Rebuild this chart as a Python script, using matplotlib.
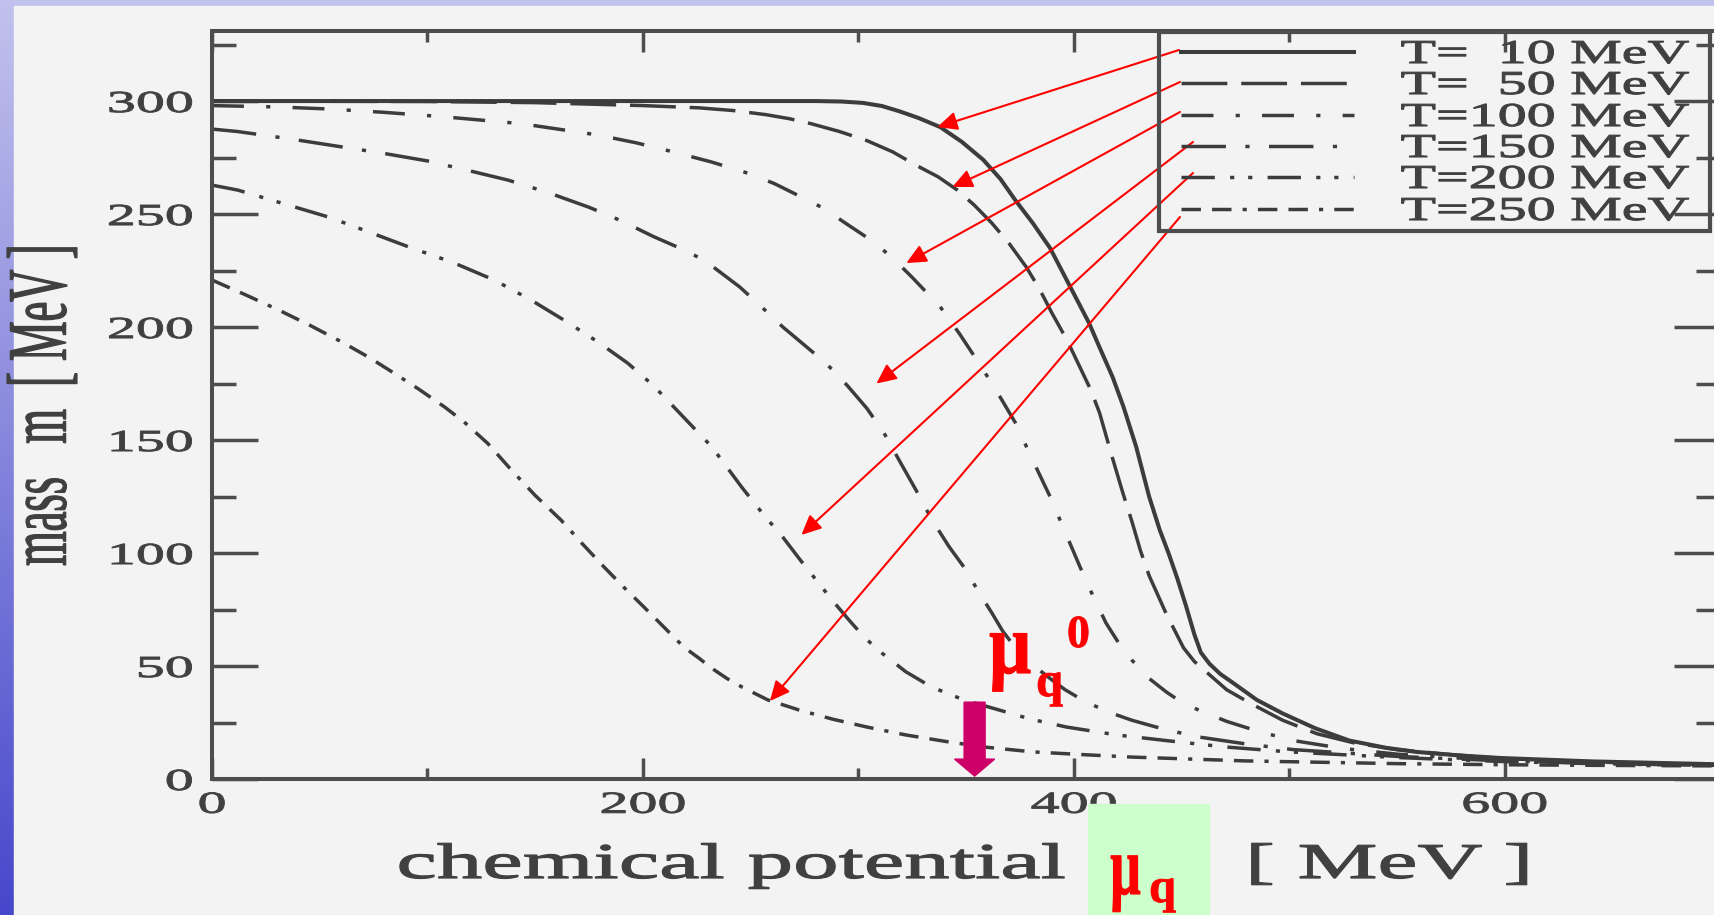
import numpy as np
import matplotlib
matplotlib.use("Agg")
import matplotlib.pyplot as plt
import matplotlib.patheffects as pe
from matplotlib.lines import Line2D
from matplotlib.patches import Rectangle, FancyArrow
from matplotlib.transforms import Affine2D

W, H = 1715, 915

# constituent quark mass m [MeV] vs quark chemical potential mu_q [MeV]
mu_T10 = [0, 100, 200, 280, 292, 302, 311, 319, 328, 338, 348, 358, 366, 373, 381, 389, 395, 401, 407, 412,
          418, 423, 429, 435, 440, 444, 448, 452, 456, 459, 463, 468, 474, 485, 497, 512, 528, 545, 559, 578,
          598, 640, 700]
m_T10 = [300, 300, 300, 300, 299.8, 299.2, 297.8, 295.5, 292.5, 288.5, 282, 274, 265.5, 256, 246, 235, 224, 213, 202, 191,
         178, 165, 147, 125, 110, 100, 89, 77, 64, 56, 51, 46.5, 42.5, 35, 29, 22.5, 17, 13.8, 12, 10.5,
         9.3, 7.8, 6.5]

mu_T50 = [0, 100, 150, 200, 226, 242, 257, 268, 278, 291, 304, 316, 327, 337, 346, 354, 362, 370, 378, 384,
          390, 397, 403, 408, 412, 418, 423, 427, 431, 435, 443, 451, 456, 462, 471, 482, 497, 513, 530, 550,
          575, 600, 650, 700]
m_T50 = [300, 299.8, 299.3, 298, 297, 295.8, 294, 292.2, 290, 286.6, 282.5, 277.5, 271.5, 266.5, 260.6, 253.8, 246, 237, 226.5, 217,
         206, 194, 182, 172, 162, 142, 126, 114, 101, 90, 73, 58, 52, 47, 39.5, 33.5, 26, 20, 16, 13,
         10.8, 9, 7.3, 6.2]

mu_T100 = [0, 30, 54, 80, 108, 143.5, 179, 197, 212, 232, 249, 261, 272.6, 284, 294, 306.6, 316, 325, 338, 347,
           356, 364, 373, 381, 389, 396.6, 406, 415, 421, 427, 435, 443, 450, 458, 471, 486, 502, 525, 550, 600,
           650, 700]
m_T100 = [298, 297.4, 296.5, 295, 293, 290, 285, 281.5, 278, 273, 268, 263.5, 258, 252.5, 246, 238, 230.5, 222, 209, 197,
          184, 172, 157.5, 141, 125, 108, 87, 69, 60, 52.6, 44.5, 38.5, 34, 30.5, 25.5, 21, 17, 13.5, 11, 8,
          6.8, 6]

mu_T150 = [0, 12, 36, 61, 80, 100, 118, 137.5, 156, 175, 190, 205, 217, 228.5, 245, 255, 265, 275, 285, 295,
           304, 312, 319, 327, 334, 342, 350, 356, 362, 367, 373, 381, 389, 396, 404, 415, 427, 442, 458, 480,
           502, 550, 600, 650, 700]
m_T150 = [287.6, 286.5, 283.3, 279.6, 276.8, 273.5, 269.5, 265, 259.5, 253, 247, 240, 235, 229.6, 217.7, 209, 200, 192, 184, 174,
          164, 153, 141, 127.5, 115, 103, 92.5, 82.5, 73.5, 65.5, 58, 50.5, 44.5, 39.5, 35, 30, 26, 22, 18.6, 15.5,
          13, 10, 8, 6.7, 6]

mu_T200 = [0, 12, 30, 54, 73, 92.6, 112, 131, 148, 163.5, 179, 193, 205, 216, 232, 246, 256, 265, 273, 280.5,
           288, 296, 303, 311, 322, 334, 349, 365.5, 380, 396.6, 420, 443, 470, 500, 550, 600, 650, 700]
m_T200 = [262.8, 260.6, 255.5, 248.7, 242, 235, 228.5, 220.8, 212, 203, 193.5, 184, 174, 163, 147, 129, 117, 107, 97, 88,
          79, 70, 62.5, 55.7, 47.5, 40.7, 35, 30.5, 26.5, 23, 19.5, 17, 14.2, 12, 9.5, 7.7, 6.6, 6]

mu_T250 = [0, 15, 31, 46, 61, 73, 84.5, 96, 108, 117, 128, 139, 150, 162, 172, 182, 191, 200.6, 210, 219,
           226, 232, 239, 246, 258, 272.6, 288, 304, 322, 342, 360, 381, 404, 427, 480, 550, 600, 650, 700]
m_T250 = [220.8, 214.5, 207.5, 200.5, 193, 186.5, 179.6, 172.5, 164.6, 158, 148.5, 136.7, 125.5, 114.6, 104, 93.8, 85, 76, 67, 58.4,
          53.5, 49, 44.5, 40.7, 35, 30.5, 26.5, 23, 19.5, 16.4, 14, 12, 10.8, 9.7, 8, 6.8, 6.3, 6, 5.8]

labels = ["T=  10 MeV", "T=  50 MeV", "T=100 MeV", "T=150 MeV", "T=200 MeV", "T=250 MeV"]

x_major = [0, 200, 400, 600]
x_minor = [100, 300, 500, 700]
y_major = [0, 50, 100, 150, 200, 250, 300]
y_minor = [25, 75, 125, 175, 225, 275, 325]

# critical chemical potential and the points the red pointers land on
mu_q0 = 354
arrow_tips = [(336.7, 288.5), (343.7, 262), (322.3, 228.3), (308.4, 175), (273.6, 108), (259, 34.5)]

INK = "#404040"
PAPER = "#f3f3f3"
SERIF = "Liberation Serif"


class Widen(pe.AbstractPathEffect):
    """Stretch glyph outlines along screen x around an anchor (0 left, 1 right),
    optionally thickening them with a stroke of the fill colour."""

    def __init__(self, sx, anchor=0.0, stroke=0.0):
        super().__init__()
        self.sx = sx
        self.anchor = anchor
        self.stroke = stroke

    def draw_path(self, renderer, gc, tpath, affine, rgbFace=None):
        ext = tpath.get_extents(affine)
        x0 = ext.x0 + self.anchor * ext.width
        aff = affine + Affine2D().translate(-x0, 0).scale(self.sx, 1).translate(x0, 0)
        gc0 = renderer.new_gc()
        gc0.copy_properties(gc)
        if self.stroke and rgbFace is not None:
            gc0.set_foreground(rgbFace)
            gc0.set_linewidth(self.stroke)
            gc0.set_joinstyle("round")
        renderer.draw_path(gc0, tpath, aff, rgbFace)
        gc0.restore()


def px(x, y):
    return x / W, 1 - y / H


def main():
    plt.rcParams["lines.scale_dashes"] = False
    fig = plt.figure(figsize=(W / 100, H / 100), dpi=100)

    # slide backdrop: blue gradient border and the paper sheet
    bg = fig.add_axes([0, 0, 1, 1])
    bg.axis("off")
    t = np.linspace(0, 1, 256)[:, None, None]
    top = np.array([0.76, 0.76, 0.93])
    bottom = np.array([0.28, 0.28, 0.80])
    bg.imshow(top + (bottom - top) * t, extent=[0, 1, 0, 1], aspect="auto")
    bg.add_patch(Rectangle((14 / W, 0), 1, 1 - 6 / H, color=PAPER))
    bg.set_xlim(0, 1)
    bg.set_ylim(0, 1)

    ax = fig.add_axes([212 / W, 1 - 779 / H, (1720 - 212) / W, (779 - 31) / H])
    ax.set_facecolor("none")

    series = [(mu_T10, m_T10), (mu_T50, m_T50), (mu_T100, m_T100),
              (mu_T150, m_T150), (mu_T200, m_T200), (mu_T250, m_T250)]
    styles = ["-", (0, (33, 10)), (0, (23, 16, 3, 16)), (0, (32, 14, 3, 14)),
              (0, (24, 11, 3, 10, 3, 11)), (0, (14, 8, 14, 8, 3, 8))]
    widths = [2.9, 2.5, 2.5, 2.5, 2.5, 2.5]
    for (mu, m), ls, lw in zip(series, styles, widths):
        ax.plot(mu, m, color="#3c3c3c", ls=ls, lw=lw, dash_capstyle="butt",
                solid_joinstyle="round")

    ax.set_xlim(0, 700)
    ax.set_ylim(0, 331)
    ax.set_xticks(x_major)
    ax.set_xticks(x_minor, minor=True)
    ax.set_yticks(y_major)
    ax.set_yticks(y_minor, minor=True)
    ax.tick_params(which="both", direction="in", top=True, right=True,
                   width=2.5, color="#4d4d4d", labelcolor=INK, labelsize=22)
    ax.tick_params(axis="x", which="major", length=15, pad=8.5)
    ax.tick_params(axis="x", which="minor", length=8)
    ax.tick_params(axis="y", which="major", length=33, pad=14)
    ax.tick_params(axis="y", which="minor", length=17)
    for lbl in ax.get_xticklabels():
        lbl.set_family(SERIF)
        lbl.set_path_effects([Widen(1.9, 0.5, 0.7)])
    for lbl in ax.get_yticklabels():
        lbl.set_family(SERIF)
        lbl.set_path_effects([Widen(1.9, 1.0, 0.7)])
    for sp in ax.spines.values():
        sp.set_linewidth(2.9)
        sp.set_color("#4d4d4d")

    # legend box drawn by hand on the figure
    fig.add_artist(Rectangle(px(1159, 231), (1710 - 1159) / W, (231 - 32) / H,
                             transform=fig.transFigure, fill=False,
                             edgecolor="#4d4d4d", lw=3))
    rows = [52, 83, 115, 146, 177, 209]
    for y, ls, lw, lab in zip(rows, styles, widths, labels):
        x0, yy = px(1181, y)
        x1, _ = px(1354, y)
        fig.add_artist(Line2D([x0, x1], [yy, yy], transform=fig.transFigure,
                              color="#3c3c3c", ls=ls, lw=lw, dash_capstyle="butt"))
        fig.text(*px(1401, y + 11), lab, family=SERIF, fontsize=24, color=INK,
                 ha="left", va="baseline", path_effects=[Widen(1.74, 0.0, 0.8)])

    # red pointers from the legend to the curves
    starts = [(1179, 50), (1180, 82), (1180, 112), (1193, 142), (1193, 173), (1180, 217)]
    for (sx, sy), tip in zip(starts, arrow_tips):
        ax.annotate("", xy=tip, xycoords="data", xytext=px(sx, sy),
                    textcoords="figure fraction", annotation_clip=False,
                    arrowprops=dict(arrowstyle="-|>,head_length=0.6,head_width=0.28",
                                    color="red", lw=1.5, shrinkA=0, shrinkB=0,
                                    mutation_scale=20))

    # mu_q^0 marker
    ax.add_patch(FancyArrow(mu_q0, 34, 0, -32.7, width=9.75, head_width=18.6,
                            head_length=7.5, length_includes_head=True,
                            color="#cc0066", zorder=5))
    red = dict(family=SERIF, weight="bold", color="red", va="baseline", ha="left")
    fig.text(*px(989, 673), "\u03bc", fontsize=62, path_effects=[Widen(0.86, 0.0, 0.8)], **red)
    fig.text(*px(1036, 696), "q", fontsize=35, path_effects=[Widen(1.0, 0.0, 0.6)], **red)
    fig.text(*px(1067, 647), "0", fontsize=33, path_effects=[Widen(1.0, 0.0, 0.6)], **red)

    # axis titles
    fig.text(*px(80, 405), "mass   m  [ MeV ]", rotation=90, family=SERIF,
             fontsize=32, color=INK, ha="right", va="center",
             path_effects=[Widen(1.9, 1.0, 0.9)])
    fig.text(*px(398, 878), "chemical potential", family=SERIF, fontsize=36,
             color=INK, ha="left", va="baseline", path_effects=[Widen(1.82, 0.0, 0.9)])
    fig.text(*px(1248, 878), "[ MeV ]", family=SERIF, fontsize=36,
             color=INK, ha="left", va="baseline", path_effects=[Widen(1.8, 0.0, 0.9)])
    fig.add_artist(Rectangle(px(1088, 915), (1209 - 1088) / W, (915 - 804) / H,
                             transform=fig.transFigure, color="#ccffcc"))
    fig.text(*px(1110, 894), "\u03bc", fontsize=60, path_effects=[Widen(0.64, 0.0, 0.8)], **red)
    fig.text(*px(1149, 902), "q", fontsize=35, path_effects=[Widen(1.0, 0.0, 0.6)], **red)

    fig.savefig("out.png", dpi=100)


if __name__ == "__main__":
    main()
